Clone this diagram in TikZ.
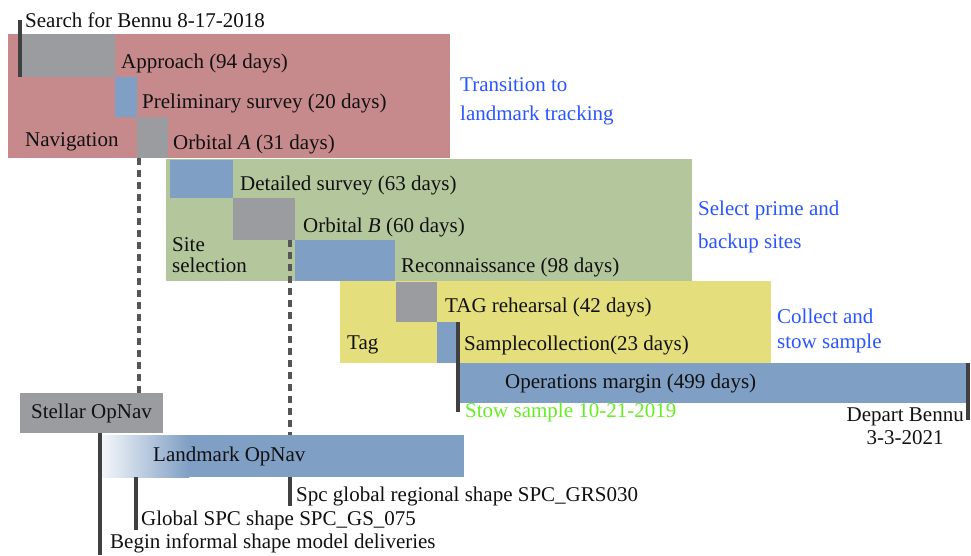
\documentclass[tikz,border=0pt]{standalone}
\usepackage{fontspec}
\setmainfont{Liberation Serif}
\usepackage{xcolor}
\usetikzlibrary{positioning, calc}

\definecolor{navred}{HTML}{C78A8C}
\definecolor{sitegreen}{HTML}{B4C79C}
\definecolor{tagyellow}{HTML}{E5DE7C}
\definecolor{phasegray}{HTML}{9B9C9F}
\definecolor{phaseblue}{HTML}{7F9FC4}
\definecolor{noteblue}{HTML}{2A55FF}
\definecolor{stowgreen}{HTML}{66EE22}
\definecolor{inkblack}{HTML}{111111}
\definecolor{markline}{HTML}{404040}
\definecolor{dashgray}{HTML}{555555}

\begin{document}
\begin{tikzpicture}[x=1pt, y=-1pt,
    phase/.style n args={2}{rectangle, anchor=north west, inner sep=0pt, outer sep=0pt,
        minimum width=#1pt, minimum height=#2pt},
    lbl/.style={anchor=west, inner sep=0pt, text=inkblack, font=\fontsize{21}{25}\selectfont},
    note/.style={lbl, align=left, text=noteblue},
    marker/.style={draw=markline, line width=3.3pt},
    handover/.style={draw=dashgray, line width=3.3pt, dash pattern=on 7pt off 5pt}]

    % page size
    \useasboundingbox (0,0) rectangle (971,555);
    \fill[white] (0,0) rectangle (971,555);

    % Navigation phase
    \node[phase={442}{124}, fill=navred] (nav) at (8,34) {};
    \node[phase={95}{43}, fill=phasegray] (approach) at (20,34) {};
    \node[phase={22}{40}, fill=phaseblue] (prelim) at (115,77) {};
    \node[phase={31}{41}, fill=phasegray] (orbA) at (137,117) {};

    % Site selection phase
    \node[phase={526}{122}, fill=sitegreen] (site) at (166,159) {};
    \node[phase={63}{38}, fill=phaseblue] (detail) at (170,160) {};
    \node[phase={62}{42}, fill=phasegray] (orbB) at (233,198) {};
    \node[phase={100}{41}, fill=phaseblue] (recon) at (295,240) {};

    % Tag phase
    \node[phase={431}{82}, fill=tagyellow] (tag) at (340,281) {};
    \node[phase={41}{40}, fill=phasegray] (rehearsal) at (396,282) {};
    \node[phase={21}{41}, fill=phaseblue] (sample) at (437,322) {};
    \node[phase={510}{40}, fill=phaseblue] (margin) at (458,363) {};

    % OpNav bars
    \node[phase={143}{40}, fill=phasegray] (stellar) at (20,393) {};
    \node[phase={363}{42}, fill=phaseblue] (landmark) at (101,435) {};
    \shade[left color=white!92!phaseblue, right color=phaseblue]
        (landmark.north west) rectangle ([xshift=88]landmark.south west);

    % milestone ticks
    \coordinate (orbAmark) at ([xshift=2]orbA.south west);
    \coordinate (orbBmark) at ([xshift=-5]orbB.south east);
    \coordinate (gsmark) at ([xshift=35]landmark.south west);
    \coordinate (departmark) at (968,420);
    \coordinate (deliverymark) at (100,555);

    % labels
    \node[lbl] (search) at (25,20) {Search for Bennu 8-17-2018};
    \node[lbl] (approachlbl) at (121,63) {Approach (94 days)};
    \node[lbl] (prelimlbl) at (142,103) {Preliminary survey (20 days)};
    \node[lbl] (orbAlbl) at (173,144) {Orbital \textit{A} (31 days)};
    \node[lbl] (navlbl) at (25,142) {Navigation};
    \node[note, font=\fontsize{21}{29}\selectfont] (transition) at (460,101) {Transition to\\landmark tracking};

    \node[lbl] (detaillbl) at (240,185) {Detailed survey (63 days)};
    \node[lbl] (orbBlbl) at (303,227) {Orbital \textit{B} (60 days)};
    \node[lbl, align=left, font=\fontsize{21}{21}\selectfont] (sitelbl) at (172,255) {Site\\selection};
    \node[lbl] (reconlbl) at (401,267) {Reconnaissance (98 days)};
    \node[note, font=\fontsize{21}{33}\selectfont] (select) at (698,227) {Select prime and\\backup sites};

    \node[lbl] (rehearsallbl) at (445,307) {TAG rehearsal (42 days)};
    \node[lbl] (taglbl) at (347,345) {Tag};
    \node[lbl] (samplelbl) at (464,345) {Samplecollection(23 days)};
    \node[note, font=\fontsize{21}{25}\selectfont] (collect) at (777,331) {Collect and\\stow sample};
    \node[lbl] (marginlbl) at (505,383) {Operations margin (499 days)};
    \node[lbl, text=stowgreen] (stow) at (465,412) {Stow sample 10-21-2019};
    \node[lbl, align=center, anchor=north east, font=\fontsize{21}{23}\selectfont] (depart) at (964,408) {Depart Bennu\\3-3-2021};

    \node[lbl, anchor=center] (stellarlbl) at (stellar.center) {Stellar OpNav};
    \node[lbl] (landmarklbl) at (153,456) {Landmark OpNav};
    \node[lbl] (grs) at (296,496) {Spc global regional shape SPC\_GRS030};
    \node[lbl] (gs) at (141,520) {Global SPC shape SPC\_GS\_075};
    \node[lbl] (begin) at (110,543) {Begin informal shape model deliveries};

    % ticks and hand-over lines
    \draw[marker] (approach.south west) -- (approach.south west |- search.west);
    \draw[handover] (orbAmark) -- (orbAmark |- stellar.north);
    \draw[handover] (orbBmark) -- (orbBmark |- landmark.north);
    \draw[marker] (orbBmark |- landmark.south) -- (orbBmark |- grs.south);
    \draw[marker] (sample.north east) -- (sample.north east |- stow.west);
    \draw[marker] (margin.north east) -- (departmark);
    \draw[marker] (stellar.south -| deliverymark) -- (deliverymark);
    \draw[marker] (gsmark) -- (gsmark |- gs.south);

\end{tikzpicture}
\end{document}
